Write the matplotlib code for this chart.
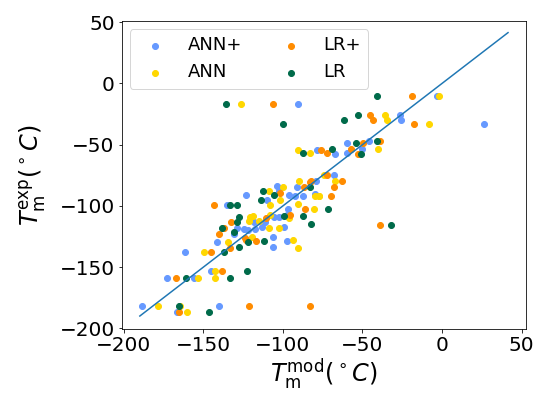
import matplotlib
matplotlib.use("Agg")
import matplotlib.pyplot as plt

# ---- data ----
ann_plus_x = [-3.1, -90.3, 26.2, -26.3, -25.9, -45.8, -59.6, -78.6, -50.6, -67.6, -59.6,
              -68.2, -79.5, -91.2, -87.6, -80.1, -92.2, -123.0, -96.4, -103.7, -102.4,
              -110.0, -135.5, -97.1, -105.8, -102.7, -97.4, -118.4, -111.0, -99.6, -128.8,
              -130.5, -124.8, -121.7, -117.3, -113.1, -141.6, -106.2, -106.2, -97.4,
              -161.9, -145.1, -173.2, -156.0, -188.4, -140.3, -166.9]
ann_plus_y = [-10.1, -16.5, -33.4, -25.9, -29.9, -46.8, -48.9, -54.4, -53.6, -57.9, -57.1,
              -74.6, -79.4, -84.3, -91.7, -90.5, -91.9, -90.9, -90.9, -83.5, -87.6,
              -95.2, -99.5, -102.8, -108.8, -109.3, -107.4, -112.9, -112.9, -117.0, -118.3,
              -122.9, -118.8, -119.7, -118.8, -117.0, -129.2, -125.6, -133.8, -128.4,
              -137.8, -152.9, -158.8, -158.8, -181.9, -181.9, -187.1]

ann_x = [-1.7, -126.1, -8.2, -35.9, -34.3, -40.0, -90.3, -82.8, -74.5, -67.3, -90.2,
         -100.0, -79.7, -77.6, -80.7, -90.8, -108.5, -101.6, -108.3, -120.5, -119.0,
         -107.9, -121.5, -102.7, -96.4, -115.2, -108.9, -119.4, -93.5, -90.3, -134.4,
         -149.9, -142.8, -153.5, -142.8, -178.8, -164.8, -160.6, -77.2]
ann_y = [-10.1, -16.5, -33.4, -25.9, -29.9, -53.6, -54.4, -57.1, -74.6, -79.4, -79.4,
         -84.3, -91.9, -91.9, -102.8, -98.5, -87.6, -95.2, -99.5, -109.3, -108.2,
         -107.4, -112.1, -118.3, -109.6, -112.3, -118.3, -125.6, -128.1, -134.1, -129.2,
         -137.8, -152.9, -158.8, -158.8, -181.9, -181.9, -187.1, -91.7]

lr_plus_x = [-18.6, -106.0, -17.8, -45.2, -43.1, -38.9, -49.4, -57.3, -76.1, -72.3, -52.9,
             -72.3, -62.7, -82.2, -67.8, -87.0, -69.8, -83.2, -86.1, -143.5, -132.4,
             -137.2, -140.1, -123.0, -116.7, -133.0, -110.4, -123.6, -145.1, -138.2,
             -167.5, -165.4, -121.5, -83.2, -38.9, -101.6, -95.4]
lr_plus_y = [-10.1, -16.5, -33.4, -25.9, -29.9, -46.8, -48.9, -53.6, -54.4, -57.1, -57.9,
             -74.6, -79.4, -79.4, -84.3, -84.3, -91.9, -80.5, -102.8, -99.5, -112.9,
             -118.3, -122.9, -127.8, -128.4, -134.6, -110.1, -125.9, -137.8, -152.9,
             -158.8, -187.1, -181.9, -181.9, -115.8, -89.7, -107.4]

lr_x = [-40.8, -136.1, -100.2, -52.9, -61.9, -40.8, -54.4, -69.2, -87.6, -50.8, -82.8,
        -71.9, -82.6, -31.8, -112.7, -105.8, -113.7, -129.2, -127.7, -128.8, -138.2,
        -130.9, -112.1, -127.8, -122.3, -99.6, -87.6, -137.2, -122.5, -161.2, -133.4,
        -165.4, -146.4, -133.6]
lr_y = [-10.1, -16.5, -33.4, -25.9, -29.9, -46.8, -48.9, -53.6, -57.1, -57.9, -84.3,
        -102.8, -114.8, -115.8, -87.6, -90.9, -95.2, -99.5, -109.3, -112.9, -118.3,
        -121.0, -128.4, -133.8, -129.2, -108.0, -108.0, -137.8, -152.9, -158.8, -158.8,
        -181.9, -187.1, -99.3]

line_x = [-190.0, 41.5]
line_y = [-190.0, 41.5]

series_names = ["ANN+", "ANN", "LR+", "LR"]
colors = ["#6699ff", "#ffd700", "#ff8c00", "#006b4a"]

# ---- figure ----
fig = plt.figure(figsize=(540 / 72, 397 / 72), dpi=72)
ax = fig.add_axes([121.7 / 540, 1 - 329 / 397, (526 - 121.7) / 540, (329 - 21) / 397])

for (xs, ys), name, c in zip([(ann_plus_x, ann_plus_y), (ann_x, ann_y),
                              (lr_plus_x, lr_plus_y), (lr_x, lr_y)], series_names, colors):
    ax.scatter(xs, ys, s=36, color=c, label=name, zorder=2)

ax.plot(line_x, line_y, color="#1f77b4", lw=1.5, zorder=3)

ax.set_xlim(-201.4, 52.8)
ax.set_ylim(-200.6, 51.0)
ax.set_xticks([-200, -150, -100, -50, 0, 50])
ax.set_yticks([-200, -150, -100, -50, 0, 50])
ax.tick_params(labelsize=20)

ax.set_xlabel(r"$T_\mathrm{m}^\mathrm{mod} (^\circ C)$", fontsize=24, labelpad=2)
ax.set_ylabel(r"$T_\mathrm{m}^\mathrm{exp} (^\circ C)$", fontsize=24, labelpad=11)

ax.legend(loc="upper left", ncol=2, fontsize=18, scatterpoints=1,
          columnspacing=1.75, borderaxespad=0.45)

fig.savefig("out.png", dpi=72)
